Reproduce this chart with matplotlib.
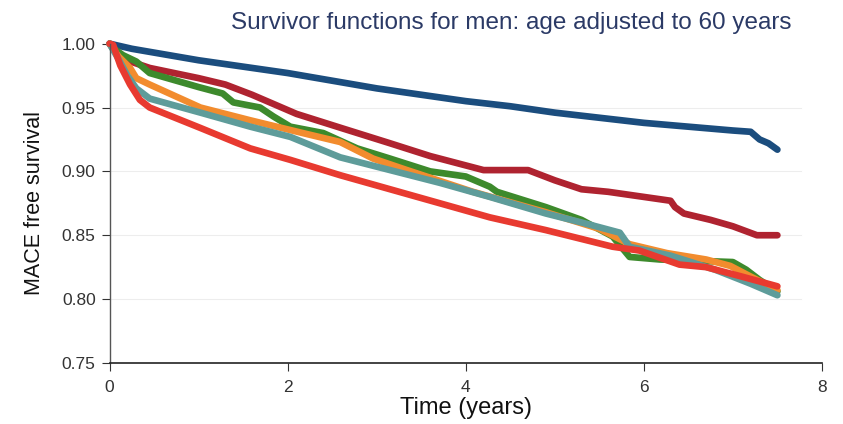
import matplotlib
matplotlib.use("Agg")
import matplotlib.pyplot as plt

plt.rcParams['font.family'] = ['Liberation Sans', 'DejaVu Sans']

title = "Survivor functions for men: age adjusted to 60 years"
xlabel = "Time (years)"
ylabel = "MACE free survival"
xticks = [0, 2, 4, 6, 8]
yticks = [0.75, 0.80, 0.85, 0.90, 0.95, 1.00]
ytick_labels = ["0.75", "0.80", "0.85", "0.90", "0.95", "1.00"]

blue_t = [0, 0.25, 0.5, 1.0, 1.5, 2.0, 2.5, 3.0, 3.5, 4.0, 4.5, 5.0, 5.5, 6.0, 6.5, 7.0, 7.2, 7.3, 7.4, 7.5]
blue_v = [1.0, 0.996, 0.993, 0.987, 0.982, 0.977, 0.971, 0.965, 0.960, 0.955, 0.951, 0.946, 0.942, 0.938, 0.935, 0.932, 0.931, 0.925, 0.922, 0.917]

darkred_t = [0, 0.05, 0.15, 0.45, 1.0, 1.3, 1.6, 2.1, 2.6, 3.15, 3.6, 4.2, 4.7, 5.0, 5.3, 5.6, 5.9, 6.3, 6.35, 6.45, 6.75, 7.0, 7.27, 7.5]
darkred_v = [1.0, 0.995, 0.988, 0.981, 0.973, 0.968, 0.960, 0.945, 0.934, 0.922, 0.912, 0.901, 0.901, 0.893, 0.886, 0.884, 0.881, 0.877, 0.872, 0.867, 0.862, 0.857, 0.850, 0.850]

green_t = [0, 0.05, 0.15, 0.3, 0.45, 1.0, 1.27, 1.39, 1.69, 1.84, 2.03, 2.4, 2.78, 3.15, 3.6, 4.0, 4.27, 4.35, 4.9, 5.3, 5.65, 5.84, 6.18, 7.0, 7.15, 7.3, 7.5]
green_v = [1.0, 0.996, 0.991, 0.986, 0.977, 0.966, 0.961, 0.954, 0.950, 0.943, 0.935, 0.930, 0.918, 0.910, 0.900, 0.896, 0.888, 0.884, 0.872, 0.862, 0.849, 0.833, 0.831, 0.829, 0.823, 0.815, 0.806]

orange_t = [0, 0.1, 0.23, 0.3, 0.45, 1.02, 1.58, 2.17, 2.59, 2.96, 3.34, 4.08, 4.9, 5.5, 5.84, 6.26, 6.7, 6.97, 7.19, 7.5]
orange_v = [1.0, 0.99, 0.981, 0.973, 0.968, 0.950, 0.940, 0.930, 0.923, 0.910, 0.901, 0.884, 0.868, 0.855, 0.843, 0.836, 0.831, 0.826, 0.818, 0.807]

teal_t = [0, 0.1, 0.2, 0.3, 0.45, 1.02, 1.58, 2.03, 2.59, 3.15, 3.71, 4.27, 4.9, 5.3, 5.73, 5.84, 6.3, 6.8, 7.2, 7.5]
teal_v = [1.0, 0.988, 0.975, 0.965, 0.957, 0.946, 0.935, 0.927, 0.911, 0.901, 0.891, 0.880, 0.867, 0.860, 0.852, 0.841, 0.834, 0.823, 0.812, 0.803]

red_t = [0, 0.04, 0.12, 0.23, 0.34, 0.45, 1.02, 1.58, 2.03, 2.59, 3.15, 3.71, 4.27, 4.9, 5.65, 5.95, 6.4, 6.7, 7.08, 7.5]
red_v = [1.0, 0.999, 0.983, 0.968, 0.956, 0.950, 0.934, 0.918, 0.909, 0.897, 0.886, 0.875, 0.864, 0.854, 0.841, 0.838, 0.827, 0.825, 0.818, 0.810]

series = [
    (blue_t, blue_v, "#1B4D7E"),
    (darkred_t, darkred_v, "#AF2330"),
    (green_t, green_v, "#3D8A2C"),
    (orange_t, orange_v, "#F28C2E"),
    (teal_t, teal_v, "#5E9C9A"),
    (red_t, red_v, "#E83A30"),
]

fig = plt.figure(figsize=(8.43, 4.24), dpi=100)
ax = fig.add_axes([0.130, 0.144, 0.845, 0.753])

for t, v, c in series:
    ax.plot(t, v, color=c, lw=4.8, solid_joinstyle='round', solid_capstyle='round', clip_on=False)

ax.set_xlim(0, 8)
ax.set_ylim(0.75, 1.0)
ax.set_xticks(xticks)
ax.set_xticklabels([str(x) for x in xticks])
ax.set_yticks(yticks)
ax.set_yticklabels(ytick_labels)

for y in yticks[1:-1]:
    ax.axhline(y, color="#EDEDED", lw=0.8, zorder=0, xmax=0.97)

for s in ["top", "right"]:
    ax.spines[s].set_visible(False)
ax.spines["left"].set_color("#555555")
ax.spines["left"].set_linewidth(1.0)
ax.spines["bottom"].set_color("#222222")
ax.spines["bottom"].set_linewidth(1.2)
ax.tick_params(axis='both', direction='out', length=6, labelsize=12.5, colors="#333333")
ax.tick_params(axis='y', pad=4)
ax.tick_params(axis='x', pad=6)

ax.set_xlabel(xlabel, fontsize=17, color="#111111", labelpad=2)
ax.set_ylabel(ylabel, fontsize=15.5, color="#111111", labelpad=12)
fig.text(0.607, 0.946, title, fontsize=17.5, color="#2B3A66", ha="center", va="center")

fig.savefig("out.png", dpi=100)
